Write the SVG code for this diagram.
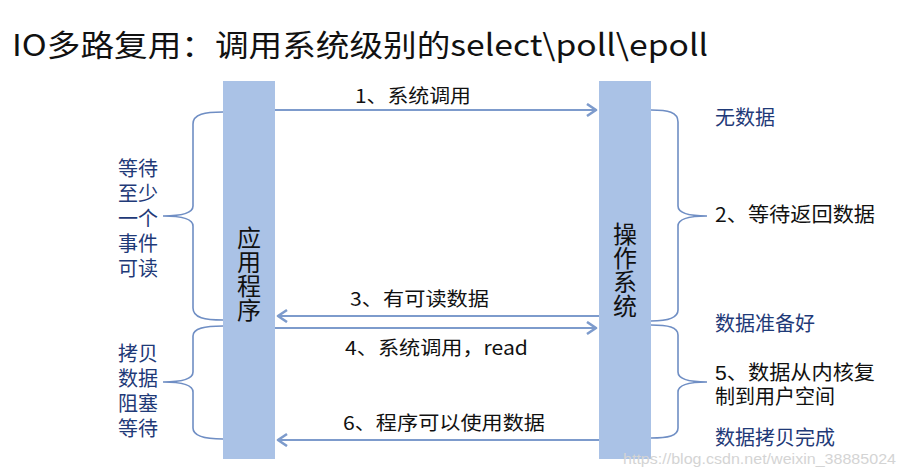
<svg xmlns="http://www.w3.org/2000/svg" width="905" height="476" viewBox="0 0 905 476">
<defs>
<style>
.t{font-family:"Noto Sans CJK SC","Microsoft YaHei",sans-serif;}
.tc{font-family:"Liberation Sans","Noto Sans CJK SC",sans-serif;}
.title{font-size:30px;fill:#111;}
.lbl{font-size:19px;fill:#111;}
.blue{font-size:20px;fill:#1f3a78;}
.blk{font-size:20px;fill:#111;}
.bar{fill:#aac2e6;}
.bartxt{font-size:24px;fill:#111;text-anchor:middle;writing-mode:vertical-rl;}
.arrow{stroke:#7d9bcc;stroke-width:2;fill:none;}
.brace{stroke:#6f8ec4;stroke-width:1.6;fill:none;}
.wm{font-family:"Liberation Sans",Arial,sans-serif;font-size:15px;fill:#d4d4d4;}
</style>
<marker id="ah" markerUnits="userSpaceOnUse" markerWidth="14" markerHeight="16" refX="11" refY="7" orient="auto">
<path d="M2,1 L11,7 L2,13" stroke="#7d9bcc" stroke-width="2.6" fill="none" stroke-linejoin="round"/>
</marker>
</defs>
<rect width="905" height="476" fill="#ffffff"/>
<text class="t title" x="12" y="56" textLength="696" lengthAdjust="spacingAndGlyphs">IO多路复用：调用系统级别的select\poll\epoll</text>

<g id="app">
<rect class="bar" x="223" y="81" width="52" height="378"/>
<text class="t bartxt" x="249" y="274">应用程序</text>
</g>
<g id="os">
<rect class="bar" x="599" y="81" width="52" height="378"/>
<text class="t bartxt" x="625" y="270">操作系统</text>
</g>

<g id="connectors">
<line class="arrow" x1="275" y1="110" x2="596" y2="110" marker-end="url(#ah)"/>
<line class="arrow" x1="599" y1="316" x2="278" y2="316" marker-end="url(#ah)"/>
<line class="arrow" x1="275" y1="328" x2="596" y2="328" marker-end="url(#ah)"/>
<line class="arrow" x1="599" y1="440" x2="278" y2="440" marker-end="url(#ah)"/>
</g>

<g id="arrow-labels">
<text class="t lbl" x="355" y="103" textLength="116" lengthAdjust="spacingAndGlyphs">1、系统调用</text>
<text class="t lbl" x="350" y="306" textLength="139" lengthAdjust="spacingAndGlyphs">3、有可读数据</text>
<text class="t lbl" x="345" y="355" textLength="183" lengthAdjust="spacingAndGlyphs">4、系统调用，read</text>
<text class="t lbl" x="343" y="430" textLength="202" lengthAdjust="spacingAndGlyphs">6、程序可以使用数据</text>
</g>

<g id="left-brace-wait">
<path class="brace" d="M223,112 C205,112 193,114 193,124 L193,206 C193,213 182,216 163,216 C182,216 193,219 193,226 L193,308 C193,318 205,320 223,320"/>
<text class="tc blue" x="118"><tspan x="118" y="176">等待</tspan><tspan x="118" y="201">至少</tspan><tspan x="118" y="226">一个</tspan><tspan x="118" y="251">事件</tspan><tspan x="118" y="276">可读</tspan></text>
</g>
<g id="left-brace-copy">
<path class="brace" d="M223,326 C205,326 193,328 193,336 L193,372 C193,379 182,382 163,382 C182,382 193,385 193,392 L193,428 C193,436 205,439 223,439"/>
<text class="tc blue" x="118"><tspan x="118" y="361">拷贝</tspan><tspan x="118" y="386">数据</tspan><tspan x="118" y="411">阻塞</tspan><tspan x="118" y="436">等待</tspan></text>
</g>
<g id="right-brace-wait">
<path class="brace" d="M651,110 C668,110 678,112 678,122 L678,206 C678,213 689,216 707,216 C689,216 678,219 678,226 L678,310 C678,318 668,321 651,321"/>
<text class="t blue" x="715" y="125">无数据</text>
<text class="t blk" x="715" y="222" textLength="160" lengthAdjust="spacingAndGlyphs">2、等待返回数据</text>
<text class="t blue" x="715" y="331">数据准备好</text>
</g>
<g id="right-brace-copy">
<path class="brace" d="M651,325 C668,325 678,327 678,335 L678,372 C678,379 689,382 707,382 C689,382 678,385 678,392 L678,428 C678,436 668,438 651,438"/>
<text class="tc blk" x="715" y="380" textLength="160" lengthAdjust="spacingAndGlyphs">5、数据从内核复</text>
<text class="tc blk" x="715" y="404">制到用户空间</text>
<text class="tc blue" x="715" y="445">数据拷贝完成</text>
</g>
<text class="wm" x="623" y="464" textLength="273" lengthAdjust="spacingAndGlyphs">https://blog.csdn.net/weixin_38885024</text>
</svg>
